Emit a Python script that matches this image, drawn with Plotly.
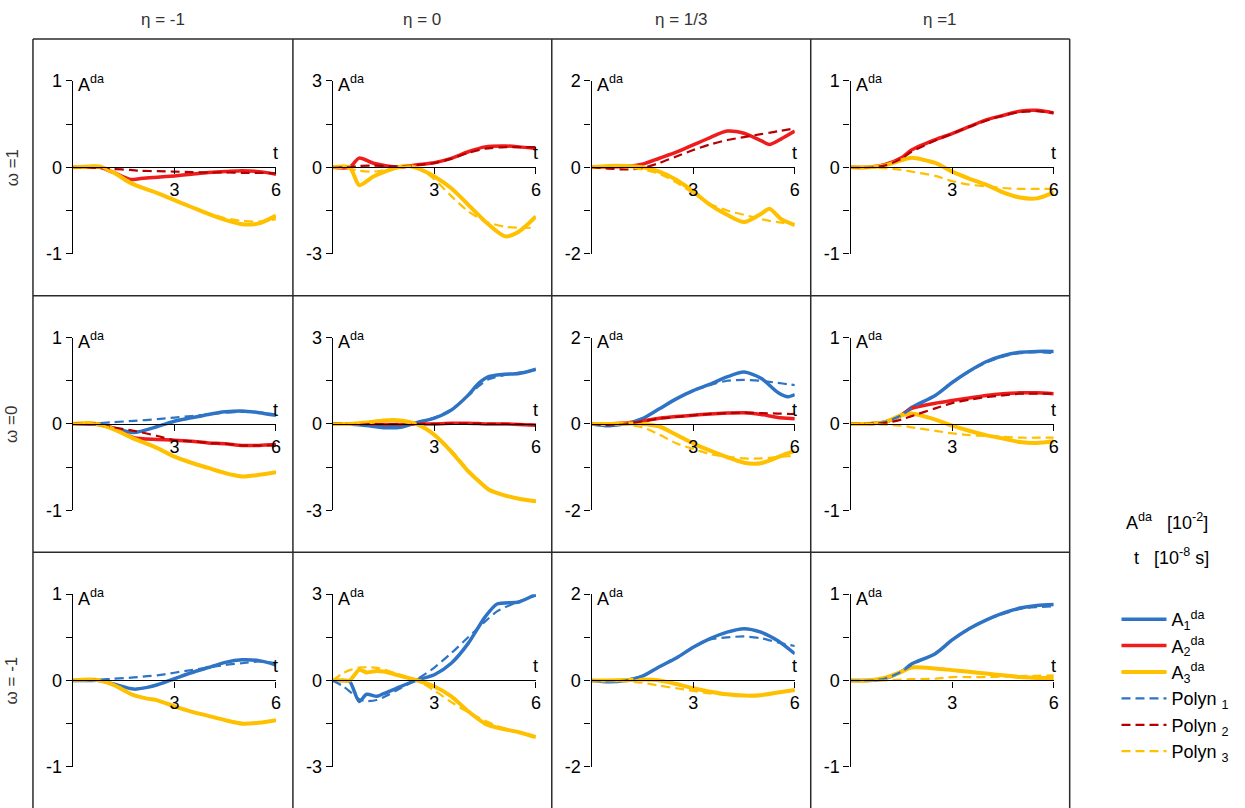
import plotly.graph_objects as go

W, H = 1245, 808

# ---------------- data (A^da in 10^-2, t in 10^-8 s) ----------------
# omega = 1, eta = -1
t_w1_em1 = [0, 0.5, 0.8, 1.2, 1.7, 2, 2.5, 3, 3.5, 4, 4.5, 5, 5.5, 6]
A2_w1_em1 = [0, 0, 0, -0.06, -0.14, -0.13, -0.115, -0.1, -0.08, -0.06, -0.05, -0.04, -0.05, -0.08]
A3_w1_em1 = [0, 0.01, 0.01, -0.06, -0.18, -0.23, -0.3, -0.38, -0.46, -0.54, -0.61, -0.66, -0.65, -0.56]
P2_w1_em1 = [0, 0, -0.01, -0.02, -0.03, -0.04, -0.045, -0.05, -0.055, -0.06, -0.06, -0.065, -0.065, -0.07]
P3_w1_em1 = [0, 0.01, 0.005, -0.06, -0.17, -0.22, -0.3, -0.38, -0.46, -0.53, -0.59, -0.62, -0.63, -0.6]

# omega = 1, eta = 0
t_w1_e0 = [0, 0.5, 0.78, 1.2, 1.6, 2, 2.2, 2.5, 3, 3.5, 4, 4.5, 5.1, 5.5, 6]
A2_w1_e0 = [0, 0, 0.32, 0.14, 0.05, 0.01, 0.04, 0.09, 0.16, 0.31, 0.54, 0.71, 0.74, 0.71, 0.65]
A3_w1_e0 = [0, 0, -0.62, -0.32, -0.12, 0.02, 0.05, -0.03, -0.32, -0.73, -1.3, -1.88, -2.4, -2.23, -1.71]
P2_w1_e0 = [0, 0, 0.05, 0.06, 0.04, 0.03, 0.05, 0.08, 0.15, 0.3, 0.5, 0.65, 0.7, 0.7, 0.7]
P3_w1_e0 = [0, -0.05, -0.12, -0.15, -0.08, 0.0, 0.03, 0.0, -0.42, -1.0, -1.53, -1.88, -2.07, -2.1, -2.1]

# omega = 1, eta = 1/3
t_w1_e13 = [0, 0.5, 1, 1.5, 2, 2.5, 3, 3.5, 4, 4.5, 5, 5.25, 5.6, 6]
A2_w1_e13 = [0, 0.01, 0.02, 0.07, 0.21, 0.35, 0.52, 0.69, 0.84, 0.79, 0.62, 0.53, 0.66, 0.84]
A3_w1_e13 = [0, 0.03, 0.03, 0.0, -0.1, -0.29, -0.56, -0.87, -1.1, -1.27, -1.08, -0.96, -1.2, -1.34]
P2_w1_e13 = [0, -0.03, -0.05, -0.02, 0.1, 0.25, 0.4, 0.53, 0.63, 0.7, 0.77, 0.8, 0.85, 0.9]
P3_w1_e13 = [0, 0.02, 0.0, -0.05, -0.15, -0.35, -0.6, -0.85, -1.0, -1.1, -1.2, -1.24, -1.28, -1.32]

# omega = 1, eta = 1
t_w1_e1 = [0, 0.5, 1, 1.5, 1.8, 2.5, 3, 3.5, 4, 4.5, 5, 5.5, 6]
A2_w1_e1 = [0, 0, 0.03, 0.11, 0.2, 0.32, 0.39, 0.47, 0.55, 0.6, 0.65, 0.66, 0.63]
A3_w1_e1 = [0, 0, 0.02, 0.08, 0.11, 0.05, -0.05, -0.13, -0.2, -0.29, -0.35, -0.36, -0.29]
P2_w1_e1 = [0, 0, 0.02, 0.1, 0.18, 0.31, 0.39, 0.47, 0.54, 0.6, 0.64, 0.65, 0.63]
P3_w1_e1 = [0, 0, -0.01, -0.03, -0.05, -0.1, -0.16, -0.2, -0.22, -0.24, -0.25, -0.25, -0.25]

# omega = 0, eta = -1
t_w0_em1 = [0, 0.5, 0.8, 1.2, 1.8, 2.5, 3, 3.5, 4, 4.5, 5, 5.5, 6]
A1_w0_em1 = [0, 0, 0, -0.05, -0.1, -0.03, 0.03, 0.07, 0.11, 0.14, 0.15, 0.13, 0.1]
A2_w0_em1 = [0, 0, -0.01, -0.05, -0.16, -0.18, -0.19, -0.2, -0.22, -0.23, -0.25, -0.25, -0.24]
A3_w0_em1 = [0, 0.01, -0.01, -0.06, -0.17, -0.28, -0.38, -0.45, -0.51, -0.57, -0.61, -0.59, -0.56]
P1_w0_em1 = [0, 0.005, 0.01, 0.02, 0.035, 0.055, 0.073, 0.09, 0.11, 0.13, 0.14, 0.135, 0.1]
P2_w0_em1 = [0, 0, -0.01, -0.04, -0.08, -0.14, -0.19, -0.2, -0.22, -0.23, -0.25, -0.25, -0.25]
P3_w0_em1 = [0, 0.01, -0.01, -0.06, -0.17, -0.28, -0.38, -0.45, -0.51, -0.56, -0.6, -0.59, -0.56]

# omega = 0, eta = 0
t_w0_e0 = [0, 0.5, 1, 1.5, 2, 2.5, 3, 3.5, 4, 4.3, 4.6, 5, 5.5, 6]
A1_w0_e0 = [0, 0, -0.06, -0.13, -0.12, 0.05, 0.2, 0.48, 1.0, 1.4, 1.64, 1.72, 1.75, 1.9]
A2_w0_e0 = [0, 0, -0.01, -0.02, -0.02, -0.01, 0.0, 0.02, 0.02, 0.01, 0.0, 0.0, -0.02, -0.05]
A3_w0_e0 = [0, 0, 0.05, 0.12, 0.12, -0.02, -0.38, -0.96, -1.65, -1.98, -2.28, -2.46, -2.6, -2.69]
P1_w0_e0 = [0, 0, -0.05, -0.1, -0.08, 0.05, 0.22, 0.5, 0.98, 1.3, 1.55, 1.68, 1.78, 1.88]
P2_w0_e0 = [0, 0, -0.01, -0.01, -0.01, 0, 0, 0.01, 0.01, 0.01, 0, 0, -0.01, -0.03]
P3_w0_e0 = [0, 0.02, 0.06, 0.1, 0.08, -0.05, -0.38, -0.92, -1.6, -1.95, -2.25, -2.45, -2.6, -2.7]

# omega = 0, eta = 1/3
t_w0_e13 = [0, 0.5, 1, 1.5, 2, 2.5, 3, 3.5, 4, 4.5, 5, 5.5, 5.8, 6]
A1_w0_e13 = [0, -0.04, 0, 0.12, 0.35, 0.58, 0.77, 0.92, 1.09, 1.2, 1.06, 0.73, 0.63, 0.68]
A2_w0_e13 = [0, 0, 0.02, 0.07, 0.13, 0.17, 0.2, 0.23, 0.25, 0.26, 0.22, 0.15, 0.13, 0.12]
A3_w0_e13 = [0, 0, 0.01, 0, -0.06, -0.25, -0.45, -0.62, -0.77, -0.9, -0.91, -0.77, -0.68, -0.63]
P1_w0_e13 = [0, -0.03, 0, 0.12, 0.35, 0.58, 0.77, 0.9, 1.0, 1.02, 1.0, 0.95, 0.92, 0.9]
P2_w0_e13 = [0, -0.03, 0, 0.06, 0.12, 0.16, 0.2, 0.23, 0.25, 0.26, 0.25, 0.24, 0.23, 0.23]
P3_w0_e13 = [0, 0, -0.02, -0.08, -0.25, -0.45, -0.58, -0.7, -0.76, -0.8, -0.8, -0.77, -0.75, -0.74]

# omega = 0, eta = 1
t_w0_e1 = [0, 0.5, 1, 1.5, 1.8, 2.5, 3, 3.5, 4, 4.5, 5, 5.5, 6]
A1_w0_e1 = [0, 0, 0.02, 0.1, 0.19, 0.33, 0.48, 0.61, 0.72, 0.79, 0.83, 0.84, 0.84]
A2_w0_e1 = [0, 0, 0.02, 0.1, 0.18, 0.24, 0.27, 0.3, 0.33, 0.35, 0.36, 0.36, 0.35]
A3_w0_e1 = [0, 0, 0.02, 0.1, 0.12, 0.05, -0.02, -0.08, -0.13, -0.17, -0.21, -0.22, -0.2]
P1_w0_e1 = [0, 0, 0.02, 0.1, 0.18, 0.33, 0.48, 0.61, 0.71, 0.78, 0.82, 0.83, 0.82]
P2_w0_e1 = [0, 0, 0.01, 0.05, 0.09, 0.18, 0.24, 0.28, 0.31, 0.33, 0.35, 0.35, 0.35]
P3_w0_e1 = [0, 0, -0.01, -0.02, -0.04, -0.08, -0.11, -0.13, -0.14, -0.15, -0.16, -0.16, -0.16]

# omega = -1, eta = -1
t_wm1_em1 = [0, 0.5, 0.8, 1.2, 1.8, 2.2, 2.5, 3, 3.5, 4, 4.5, 5, 5.5, 6]
A1_wm1_em1 = [0, 0, 0, -0.04, -0.1, -0.08, -0.05, 0.02, 0.09, 0.15, 0.21, 0.24, 0.23, 0.18]
A3_wm1_em1 = [0, 0.01, 0, -0.05, -0.17, -0.21, -0.23, -0.3, -0.36, -0.41, -0.46, -0.5, -0.49, -0.46]
P1_wm1_em1 = [0, 0.005, 0.01, 0.02, 0.035, 0.05, 0.06, 0.09, 0.12, 0.15, 0.18, 0.2, 0.22, 0.2]
P3_wm1_em1 = [0, 0.01, 0, -0.05, -0.17, -0.21, -0.23, -0.3, -0.36, -0.41, -0.46, -0.49, -0.49, -0.46]

# omega = -1, eta = 0
t_wm1_e0 = [0, 0.3, 0.5, 0.78, 1, 1.3, 1.5, 2, 2.5, 3, 3.5, 4, 4.5, 4.85, 5.5, 6]
A1_wm1_e0 = [0, 0, -0.03, -0.73, -0.48, -0.55, -0.46, -0.21, 0.02, 0.2, 0.6, 1.29, 2.21, 2.66, 2.73, 3.0]
A3_wm1_e0 = [0, 0, 0, 0.37, 0.28, 0.33, 0.31, 0.16, 0, -0.21, -0.55, -1.07, -1.5, -1.64, -1.8, -1.97]
P1_wm1_e0 = [0, -0.2, -0.38, -0.65, -0.72, -0.68, -0.58, -0.27, 0.05, 0.45, 0.95, 1.5, 2.05, 2.4, 2.75, 2.95]
P3_wm1_e0 = [0, 0.25, 0.36, 0.45, 0.46, 0.44, 0.38, 0.2, 0, -0.35, -0.75, -1.1, -1.4, -1.58, -1.8, -1.97]

# omega = -1, eta = 1/3
t_wm1_e13 = [0, 0.5, 1, 1.5, 2, 2.5, 3, 3.5, 4, 4.5, 5, 5.5, 6]
A1_wm1_e13 = [0, -0.03, 0, 0.1, 0.32, 0.52, 0.77, 0.97, 1.12, 1.2, 1.12, 0.92, 0.62]
A3_wm1_e13 = [0, 0, 0.01, 0.02, 0, -0.08, -0.18, -0.26, -0.32, -0.35, -0.34, -0.28, -0.22]
P1_wm1_e13 = [0, -0.02, 0, 0.1, 0.32, 0.52, 0.77, 0.95, 1.0, 1.02, 0.98, 0.88, 0.8]
P3_wm1_e13 = [0, 0, -0.02, -0.05, -0.12, -0.18, -0.24, -0.3, -0.33, -0.35, -0.33, -0.28, -0.22]

# omega = -1, eta = 1
t_wm1_e1 = [0, 0.5, 1, 1.5, 1.8, 2.5, 3, 3.5, 4, 4.5, 5, 5.5, 6]
A1_wm1_e1 = [0, 0, 0.02, 0.1, 0.19, 0.31, 0.47, 0.6, 0.7, 0.78, 0.84, 0.87, 0.88]
A3_wm1_e1 = [0, 0, 0.03, 0.1, 0.15, 0.14, 0.12, 0.1, 0.08, 0.06, 0.04, 0.03, 0.03]
P1_wm1_e1 = [0, 0, 0.02, 0.1, 0.18, 0.31, 0.47, 0.6, 0.7, 0.77, 0.83, 0.85, 0.86]
P3_wm1_e1 = [0, 0, 0, 0.01, 0.015, 0.02, 0.04, 0.04, 0.04, 0.045, 0.05, 0.055, 0.06]

ETA_LABELS = ["η = -1", "η = 0", "η = 1/3", "η =1"]
OMEGA_LABELS = ["ω =1", "ω =0", "ω = -1"]
Y_SCALES = [1, 3, 2, 1]
X_TICKS = [3, 6]

PANELS = [
    [dict(t=t_w1_em1, A2=A2_w1_em1, A3=A3_w1_em1, P2=P2_w1_em1, P3=P3_w1_em1),
     dict(t=t_w1_e0, A2=A2_w1_e0, A3=A3_w1_e0, P2=P2_w1_e0, P3=P3_w1_e0),
     dict(t=t_w1_e13, A2=A2_w1_e13, A3=A3_w1_e13, P2=P2_w1_e13, P3=P3_w1_e13),
     dict(t=t_w1_e1, A2=A2_w1_e1, A3=A3_w1_e1, P2=P2_w1_e1, P3=P3_w1_e1)],
    [dict(t=t_w0_em1, A1=A1_w0_em1, A2=A2_w0_em1, A3=A3_w0_em1, P1=P1_w0_em1, P2=P2_w0_em1, P3=P3_w0_em1),
     dict(t=t_w0_e0, A1=A1_w0_e0, A2=A2_w0_e0, A3=A3_w0_e0, P1=P1_w0_e0, P2=P2_w0_e0, P3=P3_w0_e0),
     dict(t=t_w0_e13, A1=A1_w0_e13, A2=A2_w0_e13, A3=A3_w0_e13, P1=P1_w0_e13, P2=P2_w0_e13, P3=P3_w0_e13),
     dict(t=t_w0_e1, A1=A1_w0_e1, A2=A2_w0_e1, A3=A3_w0_e1, P1=P1_w0_e1, P2=P2_w0_e1, P3=P3_w0_e1)],
    [dict(t=t_wm1_em1, A1=A1_wm1_em1, A3=A3_wm1_em1, P1=P1_wm1_em1, P3=P3_wm1_em1),
     dict(t=t_wm1_e0, A1=A1_wm1_e0, A3=A3_wm1_e0, P1=P1_wm1_e0, P3=P3_wm1_e0),
     dict(t=t_wm1_e13, A1=A1_wm1_e13, A3=A3_wm1_e13, P1=P1_wm1_e13, P3=P3_wm1_e13),
     dict(t=t_wm1_e1, A1=A1_wm1_e1, A3=A3_wm1_e1, P1=P1_wm1_e1, P3=P3_wm1_e1)],
]

# ---------------- styles ----------------
BLUE = "#2F74C4"
RED = "#EE1C1C"
DARKRED = "#B40000"
YELLOW = "#FFC000"
STYLE = {
    "A1": dict(color=BLUE, width=3.5, dash="solid", name="A<sub>1</sub><sup>da</sup>", rank=1),
    "A2": dict(color=RED, width=3.5, dash="solid", name="A<sub>2</sub><sup>da</sup>", rank=2),
    "A3": dict(color=YELLOW, width=4, dash="solid", name="A<sub>3</sub><sup>da</sup>", rank=3),
    "P1": dict(color=BLUE, width=2.2, dash="9px,5px", name="Polyn <sub>1</sub>", rank=4),
    "P2": dict(color=DARKRED, width=2.2, dash="9px,5px", name="Polyn <sub>2</sub>", rank=5),
    "P3": dict(color=YELLOW, width=2.2, dash="9px,5px", name="Polyn <sub>3</sub>", rank=6),
}
FONT = "Liberation Sans, Arial, sans-serif"

# layout geometry (page pixels)
COL_LEFT = [33.1, 294.1, 554.0, 814.0]
RIGHT_EDGE = 1074.0
ROW_TOP = [29.8, 292.9, 556.0]
ROW_H = 263.1
AX_DX, AX_W = 40, 204
AX_DY, AX_H = 43, 177

fig = go.Figure()
shown = set()
annotations = []
layout = {}

for r in range(3):
    for c in range(4):
        k = r * 4 + c + 1
        xs = "x" if k == 1 else f"x{k}"
        ys = "y" if k == 1 else f"y{k}"
        xa = "xaxis" if k == 1 else f"xaxis{k}"
        ya = "yaxis" if k == 1 else f"yaxis{k}"
        s = Y_SCALES[c]
        x0 = (COL_LEFT[c] + AX_DX) / W
        x1 = (COL_LEFT[c] + AX_DX + AX_W) / W
        ytop = ROW_TOP[r] + AX_DY
        y1 = 1 - ytop / H
        y0 = 1 - (ytop + AX_H) / H
        axstyle = dict(showline=True, linecolor="black", linewidth=1.3, ticks="outside",
                       ticklen=6, tickwidth=1.3, tickcolor="black", showgrid=False,
                       zeroline=False, fixedrange=True,
                       tickfont=dict(family=FONT, size=18, color="black"))
        layout[xa] = dict(domain=[x0, x1], range=[0, 6], anchor="free", position=(y0 + y1) / 2,
                          tickvals=X_TICKS, ticktext=[str(v) for v in X_TICKS], **axstyle)
        layout[ya] = dict(domain=[y0, y1], range=[-s, s], anchor=xs,
                          tickvals=[-s, -s / 2, 0, s / 2, s],
                          ticktext=[str(-s), "", "0", "", str(s)], **axstyle)
        p = PANELS[r][c]
        for key in ["A1", "A2", "A3", "P1", "P2", "P3"]:
            if key not in p:
                continue
            st = STYLE[key]
            fig.add_trace(go.Scatter(
                x=p["t"], y=p[key], xaxis=xs, yaxis=ys, mode="lines",
                line=dict(color=st["color"], width=st["width"], dash=st["dash"],
                          shape="spline", smoothing=0.7),
                name=st["name"], legendrank=st["rank"], legendgroup=key,
                showlegend=key not in shown, hoverinfo="skip"))
            shown.add(key)
        annotations.append(dict(xref=xs, yref=ys, x=0, y=s, text="A<sup>da</sup>",
                                showarrow=False, xanchor="left", yanchor="middle",
                                xshift=3, yshift=-3,
                                font=dict(family=FONT, size=18, color="black")))
        annotations.append(dict(xref=xs, yref=ys, x=6, y=0, text="t", showarrow=False,
                                xanchor="center", yanchor="bottom", yshift=2,
                                font=dict(family=FONT, size=18, color="black")))

for c in range(4):
    right = COL_LEFT[c + 1] if c < 3 else RIGHT_EDGE
    annotations.append(dict(xref="paper", yref="paper", x=(COL_LEFT[c] + right) / 2 / W,
                            y=1 - 9.5 / H, text=ETA_LABELS[c], showarrow=False,
                            xanchor="center", yanchor="middle",
                            font=dict(family=FONT, size=17, color="#333333")))
for r in range(3):
    annotations.append(dict(xref="paper", yref="paper", x=12 / W,
                            y=1 - (ROW_TOP[r] + ROW_H / 2) / H, text=OMEGA_LABELS[r],
                            showarrow=False, textangle=-90, xanchor="center", yanchor="middle",
                            font=dict(family=FONT, size=17, color="#333333")))

annotations.append(dict(xref="paper", yref="paper", x=1172 / W, y=1 - 524.3 / H,
                        text="A<sup>da</sup>&nbsp;&nbsp;&nbsp;[10<sup>-2</sup>]", showarrow=False,
                        xanchor="center", yanchor="middle",
                        font=dict(family=FONT, size=18, color="black")))
annotations.append(dict(xref="paper", yref="paper", x=1176 / W, y=1 - 560 / H,
                        text="t&nbsp;&nbsp;&nbsp;[10<sup>-8</sup> s]", showarrow=False,
                        xanchor="center", yanchor="middle",
                        font=dict(family=FONT, size=18, color="black")))

shapes = []
border = dict(color="#2b2b2b", width=1.5)
for xv in COL_LEFT + [RIGHT_EDGE]:
    shapes.append(dict(type="line", xref="paper", yref="paper", x0=xv / W, x1=xv / W,
                       y0=1 - ROW_TOP[0] / H, y1=-0.02, line=border))
for yv in ROW_TOP:
    shapes.append(dict(type="line", xref="paper", yref="paper", x0=COL_LEFT[0] / W,
                       x1=RIGHT_EDGE / W, y0=1 - yv / H, y1=1 - yv / H, line=border))

fig.update_layout(
    width=W, height=H, margin=dict(l=0, r=0, t=0, b=0),
    paper_bgcolor="white", plot_bgcolor="rgba(0,0,0,0)",
    annotations=annotations, shapes=shapes,
    legend=dict(x=1121 / W, y=1 - 606 / H, xanchor="left", yanchor="top",
                font=dict(family=FONT, size=18, color="black"),
                bgcolor="rgba(0,0,0,0)", itemwidth=45, tracegroupgap=0),
    **layout,
)

fig.write_html("out.html")
